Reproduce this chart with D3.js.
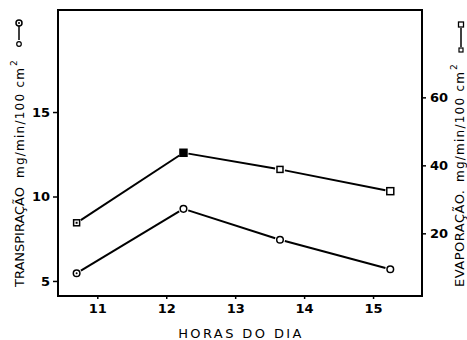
<!DOCTYPE html>
<meta charset="utf-8">
<style>
body { margin: 0; background: #fff; }
text { font-family: "DejaVu Sans", sans-serif; fill: #000; }
.tick text { font-size: 13px; font-weight: bold; }
</style>
<body>
<div id="chart"></div>
<script src="https://d3js.org/d3.v7.min.js"></script>
<script>
// hours of the day
var hours = [10.7, 12.25, 13.65, 15.25];
var transpiracao = [5.46, 9.27, 7.44, 5.69];   // mg/min/100 cm2 (left axis)
var evaporacao = [23.1, 43.7, 38.8, 32.4];     // mg/min/100 cm2 (right axis)
var hourTicks = [11, 12, 13, 14, 15];
var leftTicks = [5, 10, 15];
var rightTicks = [20, 40, 60];

var W = 467, H = 340;
var box = {left: 58, right: 422, top: 10, bottom: 296};

var svg = d3.select("#chart").append("svg")
    .attr("width", W)
    .attr("height", H);

var x = d3.scaleLinear().domain([10.43, 15.71]).range([box.left, box.right]);
var yL = d3.scaleLinear().domain([4.11, 21.04]).range([box.bottom, box.top]);
var yR = d3.scaleLinear().domain([1.56, 85.7]).range([box.bottom, box.top]);

// frame
svg.append("rect")
    .attr("x", box.left).attr("y", box.top)
    .attr("width", box.right - box.left).attr("height", box.bottom - box.top)
    .attr("fill", "none").attr("stroke", "#000").attr("stroke-width", 2);

// axes
var gx = svg.append("g")
    .attr("transform", "translate(0," + box.bottom + ")")
    .call(d3.axisBottom(x).tickValues(hourTicks).tickSize(3).tickPadding(5).tickFormat(d3.format("d")));
var gl = svg.append("g")
    .attr("transform", "translate(" + box.left + ",0)")
    .call(d3.axisLeft(yL).tickValues(leftTicks).tickSize(5).tickPadding(3).tickFormat(d3.format("d")));
var gr = svg.append("g")
    .attr("transform", "translate(" + box.right + ",0)")
    .call(d3.axisRight(yR).tickValues(rightTicks).tickSize(4).tickPadding(4).tickFormat(d3.format("d")));
[gx, gl, gr].forEach(function(g) {
  g.select(".domain").remove();
  g.selectAll(".tick line").attr("stroke", "#000").attr("stroke-width", 1.5);
});

// lines with small gaps before each marker
function drawSeries(vals, y, gap) {
  var pts = hours.map(function(h, i) { return [x(h), y(vals[i])]; });
  for (var i = 0; i < pts.length - 1; i++) {
    var a = pts[i], b = pts[i + 1];
    var dx = b[0] - a[0], dy = b[1] - a[1], len = Math.sqrt(dx * dx + dy * dy);
    var ux = dx / len, uy = dy / len;
    svg.append("line")
        .attr("x1", a[0] + ux * gap).attr("y1", a[1] + uy * gap)
        .attr("x2", b[0] - ux * gap).attr("y2", b[1] - uy * gap)
        .attr("stroke", "#000").attr("stroke-width", 2);
  }
  return pts;
}

var tp = drawSeries(transpiracao, yL, 5);
var ep = drawSeries(evaporacao, yR, 5);

// transpiration markers: circles
svg.selectAll(".tc").data(tp).enter().append("circle")
    .attr("cx", function(d) { return d[0]; })
    .attr("cy", function(d) { return d[1]; })
    .attr("r", 3.3)
    .attr("fill", "#fff").attr("stroke", "#000").attr("stroke-width", 1.5);
svg.append("circle").attr("cx", tp[0][0]).attr("cy", tp[0][1]).attr("r", 1).attr("fill", "#000");

// evaporation markers: squares
var sq = [6, 7, 6, 7];
svg.selectAll(".es").data(ep).enter().append("rect")
    .attr("x", function(d, i) { return d[0] - sq[i] / 2; })
    .attr("y", function(d, i) { return d[1] - sq[i] / 2; })
    .attr("width", function(d, i) { return sq[i]; })
    .attr("height", function(d, i) { return sq[i]; })
    .attr("fill", function(d, i) { return i === 1 ? "#000" : "#fff"; })
    .attr("stroke", "#000").attr("stroke-width", 1.5);
svg.append("rect").attr("x", ep[0][0] - 1).attr("y", ep[0][1] - 1).attr("width", 2).attr("height", 2).attr("fill", "#000");

// x label
svg.append("text")
    .attr("x", 241).attr("y", 338)
    .attr("text-anchor", "middle")
    .style("font-size", "13px").style("letter-spacing", "2.4px")
    .text("HORAS  DO  DIA");

// rotated label helper: text runs upward from (bx, y0) over len px
function vtext(bx, y0, len, size, str) {
  return svg.append("text")
      .attr("transform", "translate(" + bx + "," + y0 + ") rotate(-90)")
      .attr("textLength", len).attr("lengthAdjust", "spacing")
      .style("font-size", size + "px")
      .text(str);
}

// left y label
vtext(24, 287, 100, 13, "TRANSPIRAÇÃO");
vtext(24, 178, 110, 12, "mg/min/100 cm");
vtext(17, 66, 6, 9, "2");

// left legend glyph  o——●
svg.append("line").attr("x1", 19).attr("x2", 19).attr("y1", 26).attr("y2", 40)
    .attr("stroke", "#000").attr("stroke-width", 1.5);
svg.append("circle").attr("cx", 19).attr("cy", 44).attr("r", 2.3)
    .attr("fill", "#fff").attr("stroke", "#000").attr("stroke-width", 1.2);
svg.append("circle").attr("cx", 19).attr("cy", 23).attr("r", 3)
    .attr("fill", "#fff").attr("stroke", "#000").attr("stroke-width", 1.5);
svg.append("circle").attr("cx", 19).attr("cy", 23).attr("r", 1).attr("fill", "#000");

// right y label
vtext(464, 287, 97, 13, "EVAPORAÇÃO.");
vtext(464, 182, 110, 12, "mg/min/100 cm");
vtext(457, 70, 6, 9, "2");

// right legend glyph  □——□
svg.append("line").attr("x1", 461).attr("x2", 461).attr("y1", 28).attr("y2", 47)
    .attr("stroke", "#000").attr("stroke-width", 1.5);
svg.append("rect").attr("x", 458.5).attr("y", 22).attr("width", 5).attr("height", 5)
    .attr("fill", "#fff").attr("stroke", "#000").attr("stroke-width", 1.3);
svg.append("rect").attr("x", 459).attr("y", 48).attr("width", 4).attr("height", 4)
    .attr("fill", "#fff").attr("stroke", "#000").attr("stroke-width", 1.2);
</script>
</body>
